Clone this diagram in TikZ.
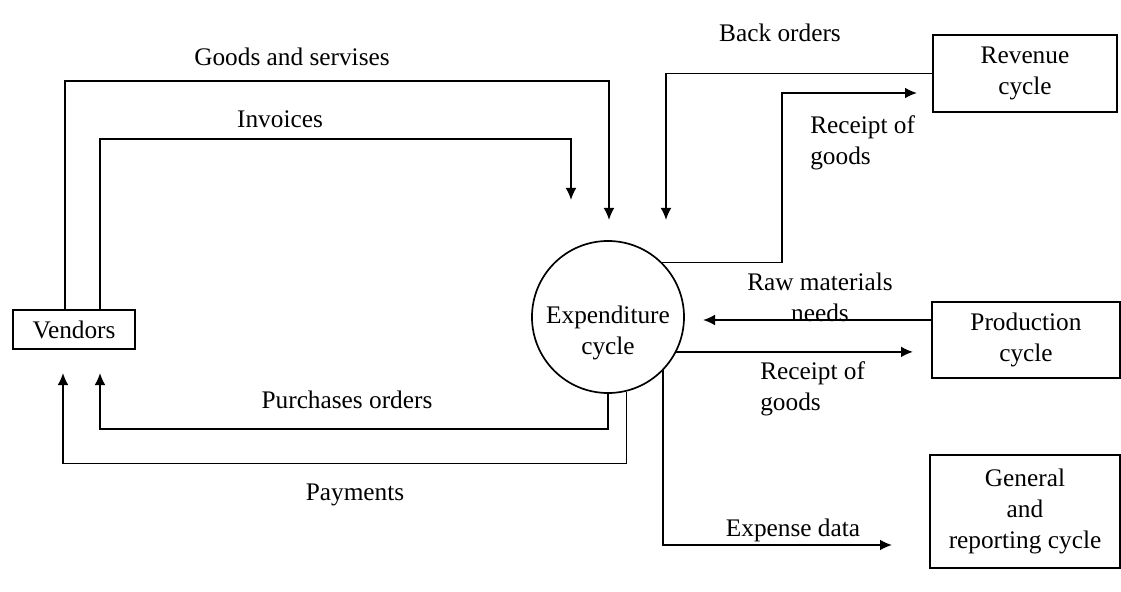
\documentclass[tikz,border=0pt]{standalone}
\usepackage{fontspec}
\setmainfont{Liberation Serif}
\usetikzlibrary{arrows.meta}

\tikzset{
  box/.style={draw, line width=1.2pt, rectangle, align=center, inner sep=0pt},
  flow/.style={line width=1.2pt, -{Latex[length=3mm,width=2.7mm]}},
  lbl/.style={inner sep=0pt, align=center}
}

\begin{document}
\begin{tikzpicture}[x=0.025cm, y=-0.025cm, font=\fontsize{18}{22}\selectfont]
        \useasboundingbox (0,0) rectangle (1121,592);

        % main nodes
        \node[box, minimum width=3.05cm, minimum height=0.975cm] (vendors) at (74,329.5) {Vendors};
        \node[draw, circle, line width=1.2pt, minimum size=3.8cm, inner sep=0pt,
              label={[lbl, yshift=-0.4cm]center:Expenditure\\cycle}] (exp) at (608,317) {};
        \node[box, minimum width=4.6cm, minimum height=1.925cm] (rev) at (1025,73.5) {Revenue\\cycle};
        \node[box, minimum width=4.7cm, minimum height=1.9cm] (prod) at (1026,340) {Production\\cycle};
        \node[box, minimum width=4.75cm, minimum height=2.825cm] (gen) at (1025,511.5) {General\\and\\reporting cycle};

        % lanes and free ends
        \coordinate (laneA) at (65,0);
        \coordinate (laneB) at (100,0);
        \coordinate (laneC) at (782,0);
        \coordinate (goodsEnd) at (609,220);
        \coordinate (invEnd) at (571,200);
        \coordinate (backEnd) at (666,220);
        \coordinate (recEnd) at (917,93);
        \coordinate (rawEnd) at (703,320);
        \coordinate (recEndB) at (913,0);
        \coordinate (expEnd) at (892,545);
        \coordinate (purEnd) at (100,373);
        \coordinate (payEnd) at (63,373);

        % connectors
        \draw[flow] (vendors.north -| laneA) -- ++(0,-228) -| (goodsEnd);
        \draw[flow] (vendors.north -| laneB) -- ++(0,-170) -| (invEnd);
        \draw[flow] (rev.west) -| (backEnd);
        \draw[flow] (exp.45) -- (exp.45 -| laneC) |- (recEnd);
        \draw[flow] (rawEnd -| prod.west) -- (rawEnd);
        \draw[flow] (exp.-27) -- (exp.-27 -| recEndB);
        \draw[flow] (exp.-44) |- (expEnd);
        \draw[flow] (exp.south) -- ++(0,35) -| (purEnd);
        \draw[flow] (exp.-76) -- ++(0,72) -| (payEnd);

        % labels
        \node[lbl] (lblGoods) at (292,57) {Goods and servises};
        \node[lbl] (lblInv) at (280,119) {Invoices};
        \node[lbl] (lblBack) at (780,33) {Back orders};
        \node[lbl, align=left, anchor=north west] (lblRecA) at (810,115) {Receipt of\\goods};
        \node[lbl] (lblRaw) at (820,297) {Raw materials\\needs};
        \node[lbl, align=left, anchor=north west] (lblRecB) at (760,361) {Receipt of\\goods};
        \node[lbl] (lblExpense) at (793,530) {Expense data};
        \node[lbl] (lblPur) at (347,400) {Purchases orders};
        \node[lbl] (lblPay) at (355,495) {Payments};
    \end{tikzpicture}
\end{document}
